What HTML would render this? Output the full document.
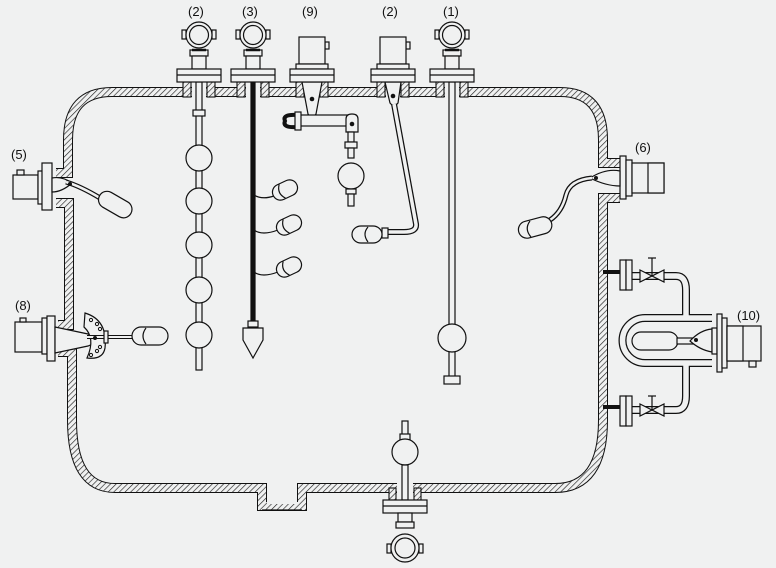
<!DOCTYPE html>
<html><head><meta charset="utf-8"><style>
html,body{margin:0;padding:0;background:#f0f1f1;}
svg{display:block;}
text{font-family:"Liberation Sans",sans-serif;font-size:13px;fill:#111;}
</style></head><body>
<svg width="776" height="568" viewBox="0 0 776 568" xmlns="http://www.w3.org/2000/svg">
<defs>
<pattern id="h" patternUnits="userSpaceOnUse" width="4" height="4" patternTransform="rotate(45)">
<rect width="4" height="4" fill="#f0f1f1"/><line x1="0" y1="0" x2="0" y2="4" stroke="#222" stroke-width="1.3"/>
</pattern>
<g id="head" fill="#f0f1f1" stroke="#111" stroke-width="1.2">
<rect x="-17" y="30" width="4" height="9"/><rect x="13" y="30" width="4" height="9"/>
<circle cx="0" cy="35" r="13"/><circle cx="0" cy="35" r="9.5"/>
<rect x="-9" y="50" width="18" height="6"/><line x1="-7" y1="50" x2="7" y2="50" stroke-width="2.5"/>
<rect x="-7" y="56" width="14" height="13"/>
<rect x="-22" y="69" width="44" height="13"/><line x1="-22" y1="75" x2="22" y2="75"/>
</g>
<g id="box" fill="#f0f1f1" stroke="#111" stroke-width="1.2">
<rect x="13" y="42" width="4" height="7"/>
<rect x="-13" y="37" width="26" height="27"/>
<rect x="-16" y="64" width="32" height="5"/>
<rect x="-22" y="69" width="44" height="13"/><line x1="-22" y1="75" x2="22" y2="75"/>
</g>
<g id="cap" fill="#f0f1f1" stroke="#111" stroke-width="1.2">
<rect x="-13" y="-8" width="26" height="16" rx="8"/><path d="M-3 -7.5 Q-9 0 -3 7.5" fill="none"/>
</g>
</defs>
<rect width="776" height="568" fill="#f0f1f1"/>

<!-- vessel wall -->
<g fill="none" stroke-linejoin="miter">
<g stroke="#111" stroke-width="10">
<path d="M56 173 L68 173 L68 140 Q68 92 112 92 L560 92 Q603 92 603 140 L603 163 L620 163"/>
<path d="M620 198 L603 198 L603 420 Q603 488 555 488 L302 488 L302 506 L262 506 L262 488 L115 488 Q72 488 72 420 L72 352 L58 352"/>
<path d="M56 203 L69 203 L69 325 L58 325"/>
</g>
<g stroke="url(#h)" stroke-width="8">
<path d="M56 173 L68 173 L68 140 Q68 92 112 92 L560 92 Q603 92 603 140 L603 163 L620 163"/>
<path d="M620 198 L603 198 L603 420 Q603 488 555 488 L302 488 L302 506 L262 506 L262 488 L115 488 Q72 488 72 420 L72 352 L58 352"/>
<path d="M56 203 L69 203 L69 325 L58 325"/>
</g>
</g>
<rect x="267" y="485" width="30" height="19" fill="#f0f1f1"/>
<line x1="262" y1="510" x2="302" y2="510" stroke="#111" stroke-width="1.2"/>

<!-- top nozzles -->
<g fill="url(#h)" stroke="#111" stroke-width="1.1">
<rect x="183" y="82" width="8" height="15"/><rect x="207" y="82" width="8" height="15"/>
<rect x="237" y="82" width="8" height="15"/><rect x="261" y="82" width="8" height="15"/>
<rect x="296" y="82" width="8" height="15"/><rect x="320" y="82" width="8" height="15"/>
<rect x="377" y="82" width="8" height="15"/><rect x="401" y="82" width="8" height="15"/>
<rect x="436" y="82" width="8" height="15"/><rect x="460" y="82" width="8" height="15"/>
<rect x="389" y="488" width="7" height="12" /><rect x="414" y="488" width="7" height="12"/>
</g>
<g fill="#f0f1f1">
<rect x="192" y="86" width="14" height="13"/><rect x="246" y="86" width="14" height="13"/>
<rect x="305" y="86" width="14" height="13"/><rect x="386" y="86" width="14" height="13"/>
<rect x="445" y="86" width="14" height="13"/><rect x="397" y="482" width="16" height="18"/>
</g>

<!-- labels -->
<text x="188" y="16">(2)</text><text x="242" y="16">(3)</text><text x="302" y="16">(9)</text>
<text x="382" y="16">(2)</text><text x="443" y="16">(1)</text>
<text x="11" y="159">(5)</text><text x="15" y="310">(8)</text><text x="635" y="152">(6)</text><text x="737" y="320">(10)</text>

<g stroke="#111" stroke-width="1.2" fill="#f0f1f1">
<!-- (2) chain of balls -->
<rect x="196" y="82" width="6" height="288"/>
<rect x="193" y="110" width="12" height="6"/>
<circle cx="199" cy="158" r="13"/><circle cx="199" cy="201" r="13"/><circle cx="199" cy="245" r="13"/>
<circle cx="199" cy="290" r="13"/><circle cx="199" cy="335" r="13"/>
<!-- (3) cable -->
<rect x="251" y="82" width="4" height="240" fill="#111"/>
<rect x="248" y="321" width="10" height="6"/>
<path d="M243 328 L263 328 L263 340 L253 358 L243 340 Z"/>
<path d="M254 195 Q262 200 274 196" fill="none"/>
<path d="M254 230 Q262 236 278 230" fill="none"/>
<path d="M254 272 Q262 278 278 272" fill="none"/>
</g>
<use href="#cap" transform="translate(285 190) rotate(-25)"/>
<use href="#cap" transform="translate(289 225) rotate(-25)"/>
<use href="#cap" transform="translate(289 267) rotate(-25)"/>
<g stroke="#111" stroke-width="1.2" fill="#f0f1f1">
<!-- (1) -->
<rect x="449" y="82" width="6" height="296"/>
<circle cx="452" cy="338" r="14"/>
<rect x="444" y="376" width="16" height="8"/>
<!-- (9) -->
<path d="M302 82 L322 82 L316 114 Q312 120 308 114 Z"/>
<rect x="298" y="115" width="54" height="11"/>
<path d="M297 115 Q282 114 285 121 Q282 128 297 127" fill="none" stroke-width="4"/>
<rect x="295" y="112" width="6" height="18"/>
<path d="M346 126 L346 119 Q346 114 352 114 Q358 114 358 119 L358 132 L346 132 Z"/>
<rect x="348" y="132" width="6" height="10"/><rect x="345" y="142" width="12" height="6"/>
<rect x="348" y="148" width="6" height="10"/>
<circle cx="351" cy="176" r="13"/>
<rect x="346" y="189" width="10" height="5"/><rect x="348" y="194" width="6" height="12"/>
<!-- (2b) -->
<path d="M385 82 L401 82 L398 103 Q394 108 390 103 Z"/>
<path d="M394 104 L416 224 Q417 232 404 232 L388 232" fill="none" stroke-width="6"/>
<path d="M394 104 L416 224 Q417 232 404 232 L388 232" fill="none" stroke="#f0f1f1" stroke-width="3.5"/>
<rect x="382" y="228" width="6" height="10"/>
<rect x="352" y="226" width="30" height="17" rx="9"/><path d="M368 227 Q362 234 368 242" fill="none"/>
</g>
<g fill="#111"><circle cx="312" cy="99" r="2.3"/><circle cx="352" cy="124" r="2.3"/><circle cx="393" cy="96" r="2.3"/></g>

<!-- tops -->
<use href="#head" x="199"/><use href="#head" x="253"/><use href="#box" x="312"/><use href="#box" x="393"/><use href="#head" x="452"/>

<g stroke="#111" stroke-width="1.2" fill="#f0f1f1">
<!-- (5) -->
<rect x="13" y="175" width="25" height="24"/><rect x="17" y="170" width="7" height="5"/>
<rect x="38" y="171" width="7" height="33"/><rect x="42" y="163" width="10" height="47"/>
<path d="M52 178 Q62 176 72 183 Q62 192 52 192 Z"/>
<path d="M66 182 Q80 186 100 198" fill="none" stroke-width="5"/>
<path d="M66 182 Q80 186 100 198" fill="none" stroke="#f0f1f1" stroke-width="2.5"/>
<rect x="97" y="196" width="36" height="17" rx="8.5" transform="rotate(30 115 205)"/>
<!-- (8) -->
<rect x="15" y="322" width="27" height="30"/><rect x="20" y="318" width="6" height="4"/>
<rect x="42" y="318" width="5" height="36"/><rect x="47" y="316" width="8" height="45"/>
<path d="M55 327 L88 334 L100 341 L88 346 L55 353 Z"/>
<path d="M85 313 Q108 320 105 348 Q103 360 87 358 Q96 338 84 327 Z"/>
<path d="M87 337 L140 337" stroke-width="4" fill="none"/>
<path d="M87 337 L140 337" stroke="#f0f1f1" stroke-width="2" fill="none"/>
<rect x="104" y="331" width="4" height="12"/>
<rect x="132" y="327" width="36" height="18" rx="9"/>
<path d="M146 328 Q140 336 146 344" fill="none"/>
<!-- (6) -->
<rect x="620" y="156" width="6" height="43"/><rect x="626" y="160" width="6" height="36"/>
<rect x="632" y="163" width="32" height="30"/><rect x="648" y="163" width="16" height="30"/>
<path d="M620 171 Q606 168 590 178 Q606 186 620 186 Z"/>
<path d="M592 178 Q570 180 566 195 Q562 212 550 220" fill="none" stroke-width="5"/>
<path d="M592 178 Q570 180 566 195 Q562 212 550 220" fill="none" stroke="#f0f1f1" stroke-width="2.5"/>
<rect x="518" y="219" width="34" height="17" rx="8.5" transform="rotate(-15 535 227)"/>
<path d="M530 221 Q524 229 531 237" fill="none"/>
</g>
<g fill="#111"><circle cx="70" cy="184" r="2"/><circle cx="596" cy="178" r="2"/><circle cx="95" cy="338" r="2"/></g>
<g fill="#f0f1f1" stroke="#111" stroke-width="1">
<circle cx="91" cy="320" r="1.6"/><circle cx="97" cy="324" r="1.6"/><circle cx="100" cy="329" r="1.6"/>
<circle cx="100" cy="347" r="1.6"/><circle cx="97" cy="351" r="1.6"/><circle cx="91" cy="355" r="1.6"/>
</g>

<!-- (10) piping -->
<g fill="none">
<path d="M603 272 L620 272 M603 407 L620 407" stroke="#111" stroke-width="4"/>
<path d="M632 276 L676 276 Q686 276 686 290 L686 318 L712 318 M632 410 L676 410 Q686 410 686 396 L686 363 L712 363 M686 318 L645 318 A22.5 22.5 0 0 0 645 363 L686 363" stroke="#111" stroke-width="8"/>
<path d="M632 276 L676 276 Q686 276 686 290 L686 318 L712 318 M632 410 L676 410 Q686 410 686 396 L686 363 L712 363 M686 318 L645 318 A22.5 22.5 0 0 0 645 363 L686 363" stroke="#f0f1f1" stroke-width="5.5"/>
</g>
<g stroke="#111" stroke-width="1.2" fill="#f0f1f1">
<rect x="620" y="260" width="6" height="30"/><rect x="626" y="260" width="6" height="30"/>
<rect x="620" y="396" width="6" height="30"/><rect x="626" y="396" width="6" height="30"/>
<path d="M640 270 L664 282 L664 270 L640 282 Z"/><line x1="652" y1="276" x2="652" y2="258"/><line x1="648" y1="258" x2="656" y2="258"/>
<path d="M640 404 L664 416 L664 404 L640 416 Z"/><line x1="652" y1="410" x2="652" y2="396"/><line x1="648" y1="396" x2="656" y2="396"/>
<rect x="632" y="332" width="46" height="18" rx="9"/>
<rect x="677" y="338" width="20" height="6"/>
<path d="M712 329 Q700 330 690 341 Q700 350 712 352 Z"/>
<rect x="712" y="328" width="5" height="26"/>
<rect x="717" y="314" width="5" height="58"/><rect x="722" y="318" width="5" height="50"/>
<rect x="727" y="326" width="34" height="35"/><rect x="727" y="326" width="16" height="35"/>
<rect x="749" y="361" width="7" height="6"/>
</g>
<circle cx="696" cy="340" r="2" fill="#111"/>

<!-- bottom instrument -->
<g stroke="#111" stroke-width="1.2" fill="#f0f1f1">
<rect x="402" y="421" width="6" height="14"/><rect x="400" y="434" width="10" height="6"/>
<circle cx="405" cy="452" r="13"/>
<rect x="402" y="465" width="6" height="35"/>
<rect x="383" y="500" width="44" height="13"/><line x1="383" y1="506" x2="427" y2="506"/>
<rect x="398" y="513" width="14" height="9"/><rect x="396" y="522" width="18" height="6"/>
<rect x="387" y="544" width="4" height="9"/><rect x="419" y="544" width="4" height="9"/>
<circle cx="405" cy="548" r="14"/><circle cx="405" cy="548" r="10"/>
</g>
</svg>
</body></html>
